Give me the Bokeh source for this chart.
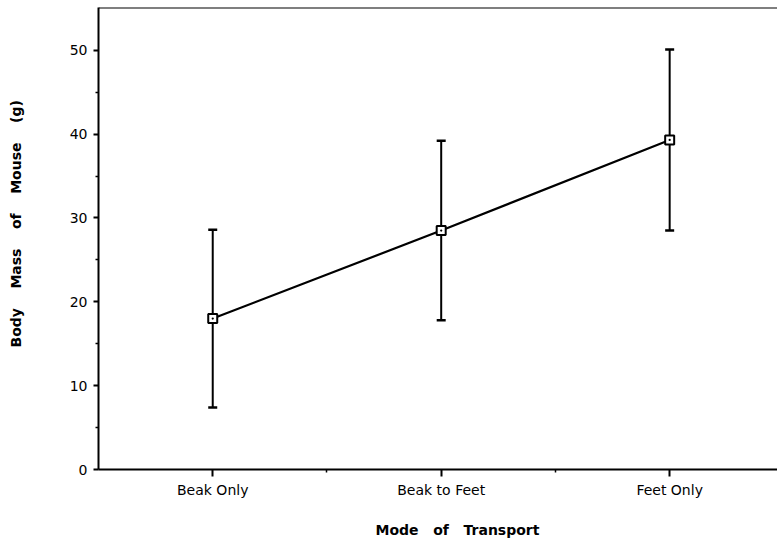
from bokeh.plotting import figure
from bokeh.models import (ColumnDataSource, FixedTicker, Whisker, TeeHead, Span, Range1d)
from bokeh.embed import file_html
from bokeh.resources import INLINE

# ---- data ----
categories = ["Beak Only", "Beak to Feet", "Feet Only"]
positions = [1, 2, 3]
mean_mass = [18.0, 28.5, 39.3]
upper_mass = [28.6, 39.2, 50.1]
lower_mass = [7.4, 17.8, 28.5]
y_ticks = [0, 10, 20, 30, 40, 50]
y_minor = [5, 15, 25, 35, 45]
x_minor = [1.5, 2.5, 3.5]
NB = "\u00a0"
x_title = NB * 8 + "Mode" + NB * 3 + "of" + NB * 3 + "Transport"
y_title = NB * 6 + "Body" + NB * 4 + "Mass" + NB * 4 + "of" + NB * 4 + "Mouse" + NB * 4 + "(g)"

src = ColumnDataSource(dict(x=positions, y=mean_mass, up=upper_mass, lo=lower_mass))

Y_END = 55.1
p = figure(width=777, height=540, output_backend="svg", toolbar_location=None,
           x_range=Range1d(0.5, 3.472), y_range=Range1d(0, Y_END),
           min_border_left=98, min_border_right=0, min_border_top=7, min_border_bottom=71)
p.outline_line_color = None
p.xgrid.visible = False
p.ygrid.visible = False
p.background_fill_color = "white"
p.border_fill_color = "white"

# top frame line
p.add_layout(Span(location=Y_END, dimension="width", line_color="black", line_width=2))

# error bars
wh = Whisker(base="x", upper="up", lower="lo", source=src, dimension="height",
             line_color="black", line_width=2,
             upper_head=TeeHead(size=9, line_color="black", line_width=2.5),
             lower_head=TeeHead(size=9, line_color="black", line_width=2.5))
p.add_layout(wh)

p.line("x", "y", source=src, line_color="black", line_width=2.2)
p.scatter("x", "y", source=src, marker="square_dot", size=9, line_color="black",
          line_width=2, fill_color="white")

# axes
xa = p.xaxis[0]
xa.ticker = FixedTicker(ticks=positions, minor_ticks=x_minor)
xa.major_label_overrides = {k: v for k, v in zip(positions, categories)}
xa.axis_label = x_title
ya = p.yaxis[0]
ya.ticker = FixedTicker(ticks=y_ticks, minor_ticks=y_minor)
ya.axis_label = y_title

for ax in (xa, ya):
    ax.axis_line_color = "black"
    ax.axis_line_width = 2
    ax.major_tick_line_color = "black"
    ax.major_tick_line_width = 2
    ax.minor_tick_line_color = "black"
    ax.minor_tick_line_width = 1.5
    ax.major_tick_in = 0
    ax.minor_tick_in = 0
    ax.major_label_text_font = "DejaVu Sans"
    ax.major_label_text_font_size = "14px"
    ax.major_label_text_color = "black"
    ax.axis_label_text_font = "DejaVu Sans"
    ax.axis_label_text_font_size = "14px"
    ax.axis_label_text_font_style = "bold"
    ax.axis_label_text_color = "black"

xa.major_tick_out = 7
xa.minor_tick_out = 3
xa.major_label_standoff = 5
xa.axis_label_standoff = 21
ya.major_tick_out = 5
ya.minor_tick_out = 3
ya.major_label_standoff = 6
ya.axis_label_standoff = 43

open("out.html", "w").write(file_html(p, INLINE))
